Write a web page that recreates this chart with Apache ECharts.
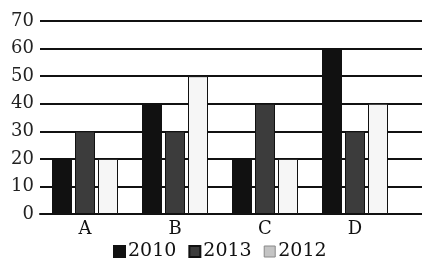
<!DOCTYPE html>
<html>
<head>
  <meta charset="UTF-8">
  <title>bar chart</title>
  <script src="https://cdn.jsdelivr.net/npm/echarts@6/dist/echarts.min.js"></script>
  <style>
    html, body { margin: 0; padding: 0; background: #fff; }
    #main { width: 422px; height: 261px; }
  </style>
</head>
<body>
<div id="main"></div>
<script>
  // data
  var categories = ['A', 'B', 'C', 'D'];
  var years = ['2010', '2013', '2012'];
  var v2010 = [20, 40, 20, 60];
  var v2013 = [30, 30, 40, 30];
  var v2012 = [20, 50, 20, 40];
  var colors = ['#111111', '#3c3c3c', '#f6f6f6'];

  var font = 'DejaVu Serif';
  var chart = echarts.init(document.getElementById('main'), null, { renderer: 'canvas' });

  function bar(name, data, color) {
    return {
      name: name,
      type: 'bar',
      xAxisIndex: 0,
      yAxisIndex: 0,
      data: data,
      barWidth: 20,
      barGap: '15%',
      itemStyle: { color: color, borderColor: '#111', borderWidth: 1 }
    };
  }

  var option = {
    animation: false,
    backgroundColor: '#fff',
    grid: [
      { left: 40, width: 360, top: 21, bottom: 47 },
      // only to carry the grid lines on to the right edge
      { left: 400, right: 0, top: 21, bottom: 47 }
    ],
    legend: {
      bottom: -5,
      left: 108,
      itemWidth: 11,
      itemHeight: 11,
      itemGap: 12,
      icon: 'rect',
      data: [
        { name: years[0] },
        { name: years[1] },
        { name: years[2], itemStyle: { color: '#c4c4c4', borderColor: '#888', borderWidth: 1 } }
      ],
      textStyle: { fontFamily: font, fontSize: 19, color: '#111', padding: [0, 0, 0, -2] }
    },
    xAxis: [
      {
        gridIndex: 0,
        type: 'category',
        data: categories,
        axisLine: { lineStyle: { color: '#111', width: 2 } },
        axisTick: { show: false },
        axisLabel: { fontFamily: font, fontSize: 18, color: '#111', margin: 6 }
      },
      {
        gridIndex: 1,
        type: 'value',
        min: 0,
        max: 1,
        axisLine: { show: true, lineStyle: { color: '#111', width: 2 } },
        axisTick: { show: false },
        axisLabel: { show: false },
        splitLine: { show: false }
      }
    ],
    yAxis: [
      {
        gridIndex: 0,
        type: 'value',
        min: 0,
        max: 70,
        interval: 10,
        axisLine: { show: false },
        axisTick: { show: false },
        axisLabel: { fontFamily: font, fontSize: 18, color: '#222', margin: 6 },
        splitLine: { lineStyle: { color: '#111', width: 2 } }
      },
      {
        gridIndex: 1,
        type: 'value',
        min: 0,
        max: 70,
        interval: 10,
        axisLine: { show: false },
        axisTick: { show: false },
        axisLabel: { show: false },
        splitLine: { lineStyle: { color: '#111', width: 2 } }
      }
    ],
    series: [
      bar(years[0], v2010, colors[0]),
      bar(years[1], v2013, colors[1]),
      bar(years[2], v2012, colors[2])
    ]
  };

  chart.setOption(option);
</script>
</body>
</html>
